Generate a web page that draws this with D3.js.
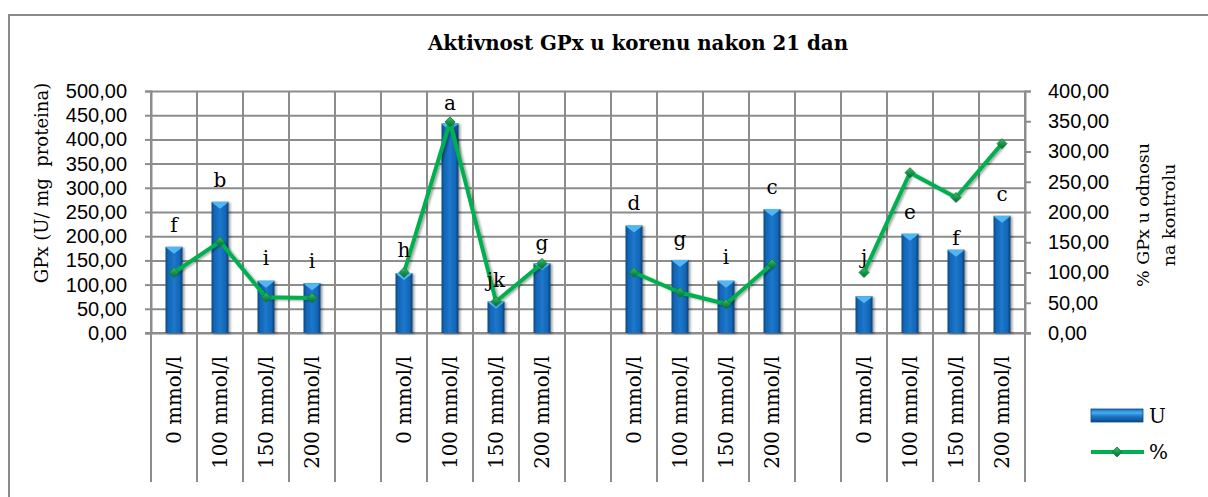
<!DOCTYPE html>
<html>
<head>
<meta charset="utf-8">
<script src="https://cdn.jsdelivr.net/npm/d3@7"></script>
<style>
  body { margin: 0; background: #fff; }
  svg { display: block; font-family: "DejaVu Serif", serif; }
  .tick text { font-size: 20px; fill: #000; }
</style>
</head>
<body>
<script>
const w = 1208
const h = 497

// x axis: four groups of the same concentrations, an empty slot between groups
const concentrations = ['0 mmol/l', '100 mmol/l', '150 mmol/l', '200 mmol/l']
const groupCount = 4

// GPx activity, U / mg proteina (left axis)
const units = [178, 271, 108, 103, 124, 433, 65, 144, 222, 151, 108, 256, 76, 205, 172, 242]
// % GPx relative to control (right axis)
const percent = [100, 151, 59, 58, 100, 349, 52, 115, 100, 67, 48, 114, 100, 265, 224, 313]
// significance letters and the U-value they sit at
const letters = ['f', 'b', 'i', 'i', 'h', 'a', 'jk', 'g', 'd', 'g', 'i', 'c', 'j', 'e', 'f', 'c']
const letterAt = [223, 316, 155, 149, 172, 475, 110, 186, 268, 194, 157, 302, 157, 249, 196, 288]

const leftTicks = d3.range(0, 501, 50)
const rightTicks = d3.range(0, 401, 50)

const title = 'Aktivnost GPx u korenu nakon 21 dan'
const leftTitle = 'GPx (U/ mg  proteina)'
const rightTitle = ['% GPx u odnosu', 'na kontrolu']

// build category keys
const keys = []
const points = []
let k = 0
for (let g = 0; g < groupCount; g++) {
  concentrations.forEach((c, i) => {
    const key = 'g' + g + '-' + i
    keys.push(key)
    points.push({key: key, label: c, u: units[k], p: percent[k], letter: letters[k], at: letterAt[k]})
    k++
  })
  if (g < groupCount - 1) keys.push('gap' + g)
}

const m = {left: 151, right: 1025, top: 91, bottom: 333}
const fmt = d => d.toFixed(2).replace('.', ',')

const x = d3.scaleBand().domain(keys).range([m.left, m.right]).padding(0)
const yL = d3.scaleLinear().domain([0, 500]).range([m.bottom, m.top])
const yR = d3.scaleLinear().domain([0, 400]).range([m.bottom, m.top])

const svg = d3.select('body').append('svg').attr('width', w).attr('height', h)

const defs = svg.append('defs')
const barGrad = defs.append('linearGradient').attr('id', 'barGrad').attr('x1', 0).attr('x2', 1).attr('y1', 0).attr('y2', 0)
barGrad.selectAll('stop')
  .data([[0, '#0c4a86'], [0.18, '#1466b6'], [0.5, '#1d78cc'], [0.82, '#1466b6'], [1, '#0a3f75']])
  .enter().append('stop').attr('offset', d => d[0]).attr('stop-color', d => d[1])
const legGrad = defs.append('linearGradient').attr('id', 'legGrad').attr('x1', 0).attr('x2', 0).attr('y1', 0).attr('y2', 1)
legGrad.selectAll('stop')
  .data([[0, '#1a70c0'], [0.3, '#49aef0'], [0.55, '#1d78cc'], [1, '#0c4a86']])
  .enter().append('stop').attr('offset', d => d[0]).attr('stop-color', d => d[1])
const mkGrad = defs.append('linearGradient').attr('id', 'mkGrad').attr('x1', 0).attr('x2', 1).attr('y1', 0).attr('y2', 1)
mkGrad.selectAll('stop')
  .data([[0, '#3cc46c'], [0.5, '#16974a'], [1, '#0b6b31']])
  .enter().append('stop').attr('offset', d => d[0]).attr('stop-color', d => d[1])
const shadow = defs.append('filter').attr('id', 'shadow').attr('x', '-30%').attr('y', '-10%').attr('width', '170%').attr('height', '130%')
shadow.append('feDropShadow').attr('dx', 2).attr('dy', 1).attr('stdDeviation', 1.3).attr('flood-opacity', 0.35)

// outer frame (runs off the right and bottom edge)
svg.append('rect')
  .attr('x', 9).attr('y', 15).attr('width', 1300).attr('height', 600)
  .attr('fill', 'none').attr('stroke', '#8a8a8a').attr('stroke-width', 2)

svg.append('text')
  .attr('x', 638).attr('y', 50)
  .attr('text-anchor', 'middle')
  .style('font-size', '19.8px').style('font-weight', 'bold')
  .text(title)

// horizontal grid
svg.append('g')
  .attr('transform', 'translate(' + m.left + ',0)')
  .call(d3.axisLeft(yL).tickValues(leftTicks).tickSize(-(m.right - m.left)).tickFormat(''))
  .call(g => g.select('.domain').remove())
  .call(g => g.selectAll('line').attr('stroke', '#8c8c8c').attr('stroke-width', 2))

// vertical lines at every category boundary, through the plot and the label box
const bounds = keys.map(d => x(d)).concat([x.range()[1]])
svg.append('g').selectAll('line')
  .data(bounds).enter().append('line')
  .attr('x1', d => d).attr('x2', d => d)
  .attr('y1', m.top).attr('y2', 482)
  .attr('stroke', '#8c8c8c').attr('stroke-width', 2)

// left axis
svg.append('g')
  .attr('transform', 'translate(' + m.left + ',0)')
  .call(d3.axisLeft(yL).tickValues(leftTicks).tickSize(6).tickPadding(18).tickFormat(fmt))
  .call(g => g.selectAll('line, .domain').attr('stroke', '#8c8c8c').attr('stroke-width', 2))

// right axis
svg.append('g')
  .attr('transform', 'translate(' + m.right + ',0)')
  .call(d3.axisRight(yR).tickValues(rightTicks).tickSize(6).tickPadding(17).tickFormat(fmt))
  .call(g => g.selectAll('line, .domain').attr('stroke', '#8c8c8c').attr('stroke-width', 2))

// baseline
svg.append('line')
  .attr('x1', m.left - 6).attr('x2', m.right + 6)
  .attr('y1', yL(0)).attr('y2', yL(0))
  .attr('stroke', '#8c8c8c').attr('stroke-width', 2)

// category labels
svg.append('g').selectAll('text')
  .data(points).enter().append('text')
  .attr('transform', d => 'translate(' + (x(d.key) + x.bandwidth() / 2) + ',356) rotate(-90)')
  .attr('text-anchor', 'end').attr('dy', '0.35em')
  .style('font-size', '19.8px')
  .text(d => d.label)

// axis titles
svg.append('text')
  .attr('transform', 'translate(42,183) rotate(-90)')
  .attr('text-anchor', 'middle').attr('dy', '0.35em')
  .style('font-size', '18px').style('white-space', 'pre')
  .text(leftTitle)
svg.append('g').selectAll('text')
  .data(rightTitle).enter().append('text')
  .attr('transform', (d, i) => 'translate(' + (1143 + i * 26) + ',215) rotate(-90)')
  .attr('text-anchor', 'middle').attr('dy', '0.35em')
  .style('font-size', '17.5px')
  .text(d => d)

// bars
const bw = 17
const bars = svg.append('g').selectAll('g')
  .data(points).enter().append('g')
  .attr('filter', 'url(#shadow)')
bars.append('rect')
  .attr('x', d => x(d.key) + x.bandwidth() / 2 - bw / 2)
  .attr('y', d => yL(d.u))
  .attr('width', bw)
  .attr('height', d => yL(0) - yL(d.u))
  .attr('fill', 'url(#barGrad)')
bars.append('path')
  .attr('d', d => {
    const x0 = x(d.key) + x.bandwidth() / 2 - bw / 2
    const y0 = yL(d.u)
    return 'M' + x0 + ',' + y0 + 'H' + (x0 + bw) + 'L' + (x0 + bw - 2) + ',' + (y0 + 2) +
      'L' + (x0 + bw / 2) + ',' + (y0 + 7) + 'L' + (x0 + 2) + ',' + (y0 + 2) + 'Z'
  })
  .attr('fill', '#52b6f4')

// percent line (drawn per group, gaps break it)
const line = d3.line()
  .x(d => x(d.key) + x.bandwidth() / 2)
  .y(d => yR(d.p))
const groups = d3.groups(points, d => d.key.split('-')[0]).map(d => d[1])
svg.append('g').selectAll('path')
  .data(groups).enter().append('path')
  .attr('d', line)
  .attr('fill', 'none')
  .attr('stroke', '#00b050')
  .attr('stroke-width', 4)
  .attr('stroke-linejoin', 'round')
  .attr('filter', 'url(#shadow)')

const diamond = d3.symbol().type(d3.symbolSquare).size(50)
svg.append('g').selectAll('path')
  .data(points).enter().append('path')
  .attr('d', diamond)
  .attr('transform', d => 'translate(' + (x(d.key) + x.bandwidth() / 2) + ',' + yR(d.p) + ') rotate(45)')
  .attr('fill', 'url(#mkGrad)')
  .attr('stroke', '#0d7a38').attr('stroke-width', 0.8)

// letters
svg.append('g').selectAll('text')
  .data(points).enter().append('text')
  .attr('x', d => x(d.key) + x.bandwidth() / 2)
  .attr('y', d => yL(d.at))
  .attr('text-anchor', 'middle').attr('dy', '0.35em')
  .style('font-size', '20px')
  .text(d => d.letter)

// legend
const leg = svg.append('g')
leg.append('rect')
  .attr('x', 1091).attr('y', 409).attr('width', 52).attr('height', 13)
  .attr('fill', 'url(#legGrad)').attr('stroke', '#0c4a86').attr('stroke-width', 0.8)
leg.append('text').attr('x', 1149).attr('y', 416).attr('dy', '0.35em')
  .style('font-size', '20px').text('U')
leg.append('line')
  .attr('x1', 1091).attr('x2', 1144).attr('y1', 452).attr('y2', 452)
  .attr('stroke', '#00b050').attr('stroke-width', 4)
leg.append('path')
  .attr('d', diamond)
  .attr('transform', 'translate(1117,452) rotate(45)')
  .attr('fill', 'url(#mkGrad)').attr('stroke', '#0d7a38').attr('stroke-width', 0.8)
leg.append('text').attr('x', 1149).attr('y', 452).attr('dy', '0.35em')
  .style('font-size', '20px').text('%')
</script>
</body>
</html>
